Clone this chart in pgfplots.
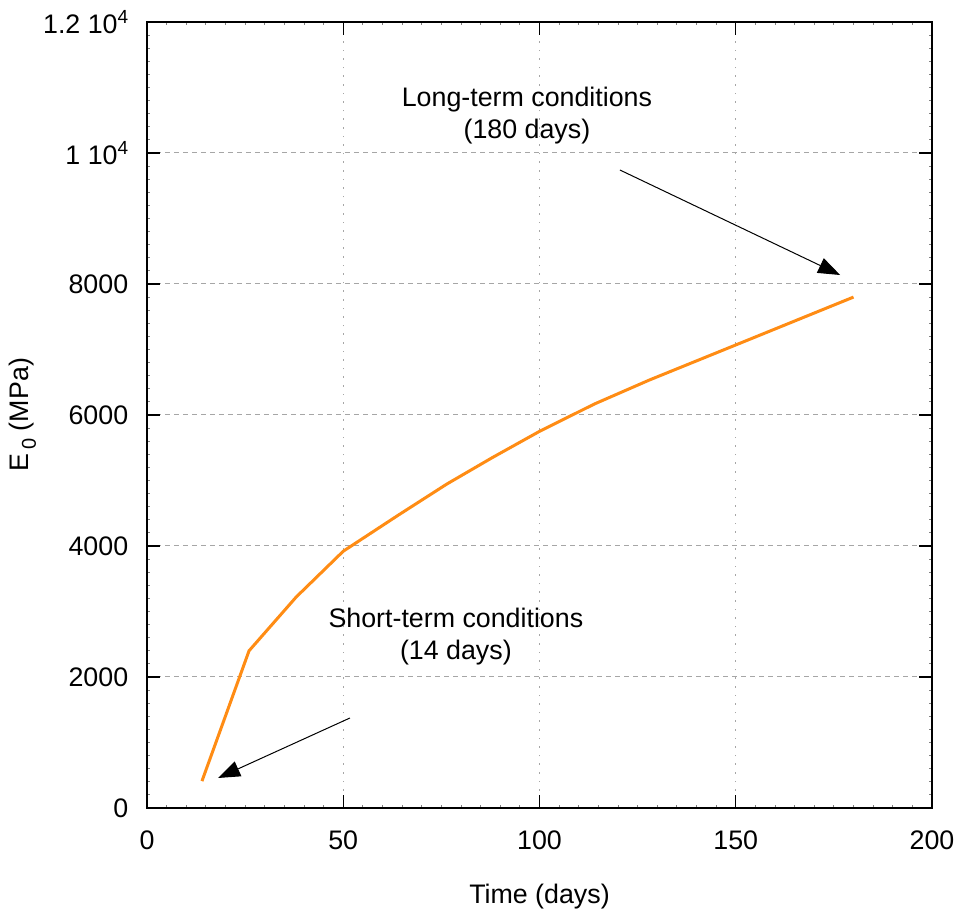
\documentclass[border=0pt]{standalone}
\usepackage{pgfplots}
\pgfplotsset{compat=1.18}
\usepackage{fontspec}
\setmainfont{Liberation Sans}
\usetikzlibrary{arrows.meta}
\definecolor{curve}{RGB}{255,140,20}
\newcommand{\sups}[1]{\raisebox{0.75ex}{\fontsize{9.5}{11}\selectfont #1}}
\begin{document}
\begin{tikzpicture}[font=\fontsize{13.4}{16}\selectfont]
\path[use as bounding box] (-73.5pt,-52.5pt) rectangle (405.5pt,404pt);
\begin{axis}[
  scale only axis,
  width=392.5pt, height=393pt,
  xmin=0, xmax=200, ymin=0, ymax=12000,
  scaled y ticks=false, scaled x ticks=false,
  xtick={0,50,100,150,200},
  xticklabels={0,50,100,150,200},
  ytick={0,2000,4000,6000,8000,10000,12000},
  yticklabels={0,2000,4000,6000,8000,{1 10\sups{4}},{1.2 10\sups{4}}},
  minor x tick num=9, minor y tick num=9,
  tick align=inside,
  major tick length=6.5pt, minor tick length=1.5pt,
  tick style={black, line width=0.6pt},
  minor tick style={gray, line width=0.4pt},
  xtick pos=both, ytick pos=both,
  grid=major,
  major x grid style={gray!70, line width=0.5pt, dash pattern=on 0.8pt off 3.5pt},
  major y grid style={gray!70, line width=0.5pt, dash pattern=on 2.5pt off 2pt},
  axis line style={black, line width=0.6pt},
  xticklabel style={yshift=-8pt},
  yticklabel style={inner sep=1pt, xshift=-8.2pt},
  xlabel={Time (days)},
  ylabel={E\,\raisebox{-0.5ex}{\fontsize{10}{12}\selectfont 0} (MPa)},
  xlabel style={yshift=-10pt},
  ylabel style={yshift=-1pt},
  clip=false,
]
\addplot[curve, line width=1.5pt] coordinates {
(14,410) (26,2400) (38,3220) (50,3920) (64,4470) (76.4,4946) (88,5350) (100,5750)
(114,6168) (128,6534) (150,7069) (180,7800)
};
\draw[black, line width=0.5pt, -{Triangle[length=11pt,width=8pt]}] (axis cs:120.5,9740) -- (axis cs:176.6,8137);
\draw[black, line width=0.5pt, -{Triangle[length=11pt,width=8pt]}] (axis cs:51.7,1374) -- (axis cs:18.1,458);
\node[align=center] at (axis cs:96.8,10570) {Long-term conditions\\(180 days)};
\node[align=center] at (axis cs:78.7,2610) {Short-term conditions\\(14 days)};
\end{axis}
\end{tikzpicture}
\end{document}
